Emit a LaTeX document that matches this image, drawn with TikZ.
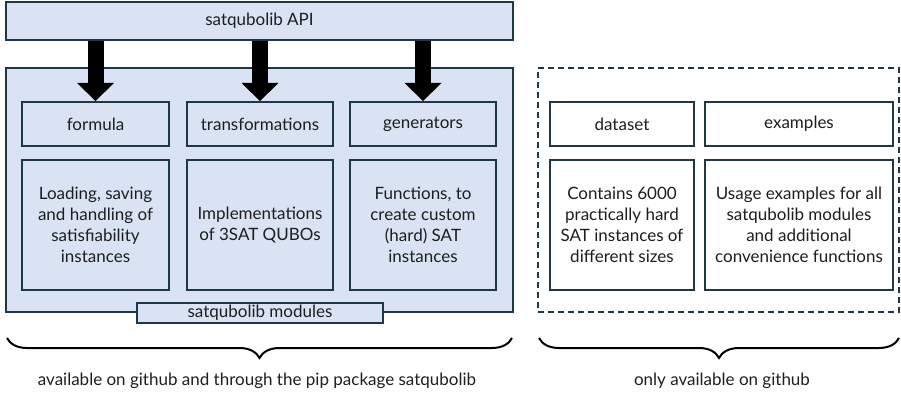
\documentclass[tikz,border=0pt]{standalone}
\usepackage{fontspec}
\setmainfont{Lato}
\usetikzlibrary{arrows.meta,decorations.pathreplacing}
\definecolor{boxblue}{HTML}{DAE3F3}
\definecolor{boxline}{HTML}{1F3846}
\definecolor{txtgray}{HTML}{1E1E1E}
\tikzset{
  box/.style={draw=boxline, line width=2pt, text=txtgray, align=center, inner sep=0pt,
    font=\fontsize{17}{21}\selectfont},
  bluebox/.style={box, fill=boxblue},
  whitebox/.style={box, fill=white},
  apiarrow/.style={line width=16pt, -{Triangle[width=37pt,length=18pt,line width=0pt]}},
  brace/.style={decorate, decoration={brace, mirror, amplitude=20pt}, line width=2pt},
  note/.style={text=txtgray, font=\fontsize{17}{21}\selectfont}
}
\begin{document}
\begin{tikzpicture}[x=1pt, y=-1pt]
\useasboundingbox (0,0) rectangle (901,393);
% api and module container
\node[bluebox, minimum width=507pt, minimum height=38pt] (api) at (259.5,21) {satqubolib API};
\node[bluebox, minimum width=507pt, minimum height=244pt] (modbox) at (259.5,190) {};
\node[bluebox, minimum width=246pt, minimum height=20pt] (modlabel) at (260,313) {satqubolib modules};
% module headers
\node[bluebox, minimum width=147pt, minimum height=44pt] (formula) at (95.5,124) {formula};
\node[bluebox, minimum width=146pt, minimum height=44pt] (trafo) at (260,124) {transformations};
\node[bluebox, minimum width=146pt, minimum height=44pt] (gen) at (423,124) {generators};
% module texts
\node[bluebox, minimum width=147pt, minimum height=130pt] (formulatxt) at (95.5,225) {Loading, saving\\and handling of\\satisfiability\\instances};
\node[bluebox, minimum width=146pt, minimum height=130pt] (trafotxt) at (260,225) {Implementations\\of 3SAT QUBOs};
\node[bluebox, minimum width=146pt, minimum height=130pt] (gentxt) at (423,225) {Functions, to\\create custom\\(hard) SAT\\instances};
% github only part
\node[box, dashed, dash pattern=on 6pt off 4pt, minimum width=361pt, minimum height=244pt] (ghbox) at (718.5,190) {};
\node[whitebox, minimum width=144pt, minimum height=44pt] (dataset) at (622,124) {dataset};
\node[whitebox, minimum width=188pt, minimum height=44pt] (examples) at (799,124) {examples};
\node[whitebox, minimum width=144pt, minimum height=130pt] (datatxt) at (622,225) {Contains 6000\\practically hard\\SAT instances of\\different sizes};
\node[whitebox, minimum width=188pt, minimum height=130pt] (extxt) at (799,225) {Usage examples for all\\satqubolib modules\\and additional\\convenience functions};
% arrows
\draw[apiarrow] (api.south -| formula.north) -- (formula.north);
\draw[apiarrow] (api.south -| trafo.north) -- (trafo.north);
\draw[apiarrow] (api.south -| gen.north) -- (gen.north);
% braces
\coordinate (pipl) at (7,338);
\coordinate (pipr) at (512,338);
\coordinate (ghl) at (539,338);
\coordinate (ghr) at (899,338);
\draw[brace] (pipl) -- (pipr);
\draw[brace] (ghl) -- (ghr);
\node[note] (pipnote) at (257,381) {available on github and through the pip package satqubolib};
\node[note] (ghnote) at (722,381) {only available on github};
\end{tikzpicture}
\end{document}
